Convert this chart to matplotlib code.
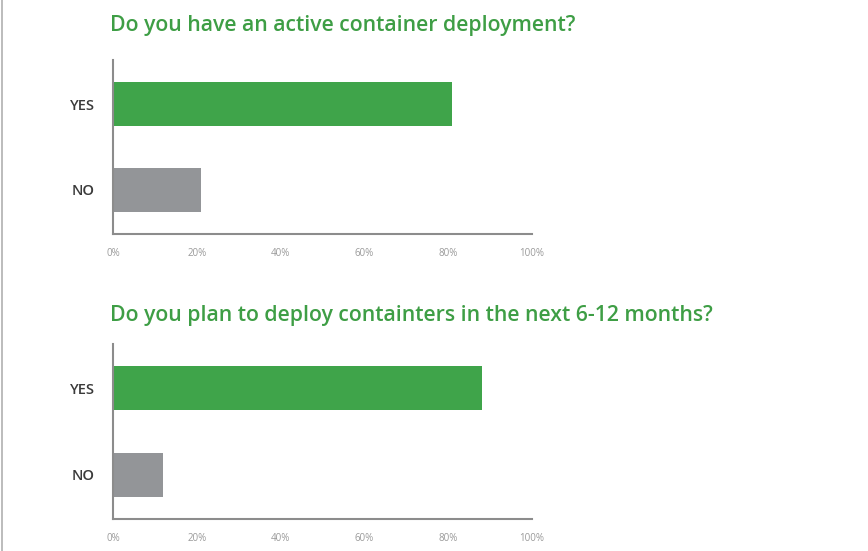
import matplotlib.pyplot as plt
from matplotlib.lines import Line2D

titles = ["Do you have an active container deployment?",
          "Do you plan to deploy containters in the next 6-12 months?"]
categories = ["NO", "YES"]
values_active = [21, 81]
values_plan = [12, 88]
tick_vals = [0, 20, 40, 60, 80, 100]
tick_labels = ["0%", "20%", "40%", "60%", "80%", "100%"]

GREEN = "#3fa44a"
GRAY = "#939598"
TITLE_GREEN = "#3e9e45"
AXIS = "#8c8c8c"

W, H = 868, 551
fig = plt.figure(figsize=(W / 100, H / 100), dpi=100)
fig.patch.set_facecolor("white")
plt.rcParams['font.family'] = ['Open Sans', 'DejaVu Sans']

def add_ax(top_px, bottom_px):
    left, right = 113, 532
    return fig.add_axes([left / W, 1 - bottom_px / H, (right - left) / W, (bottom_px - top_px) / H])

panels = [
    (add_ax(60, 234), values_active, titles[0], 26),
    (add_ax(344, 519), values_plan, titles[1], 316),
]

for ax, vals, title, ty in panels:
    ax.barh([0, 1], vals, height=0.51, color=[GRAY, GREEN])
    ax.set_xlim(0, 100)
    ax.set_ylim(-0.512, 1.512)
    for s in ["top", "right"]:
        ax.spines[s].set_visible(False)
    for s in ["left", "bottom"]:
        ax.spines[s].set_color(AXIS)
        ax.spines[s].set_linewidth(1.5)
    ax.set_yticks([0, 1])
    ax.set_yticklabels(categories, fontsize=10.5, fontweight="semibold", color="#3a3a3a")
    ax.tick_params(axis="y", length=0, pad=13)
    ax.set_xticks(tick_vals)
    ax.set_xticklabels(tick_labels, fontsize=7, color="#9a9a9a")
    ax.tick_params(axis="x", length=0, pad=10)
    fig.text(110 / W, 1 - ty / H, title, fontsize=15.3, fontweight="semibold",
             color=TITLE_GREEN, ha="left", va="center")

fig.add_artist(Line2D([1.5 / W, 1.5 / W], [0, 1], color="#b0b0b0", linewidth=1.2,
                      transform=fig.transFigure))

fig.savefig("out.png", dpi=100, facecolor="white")
